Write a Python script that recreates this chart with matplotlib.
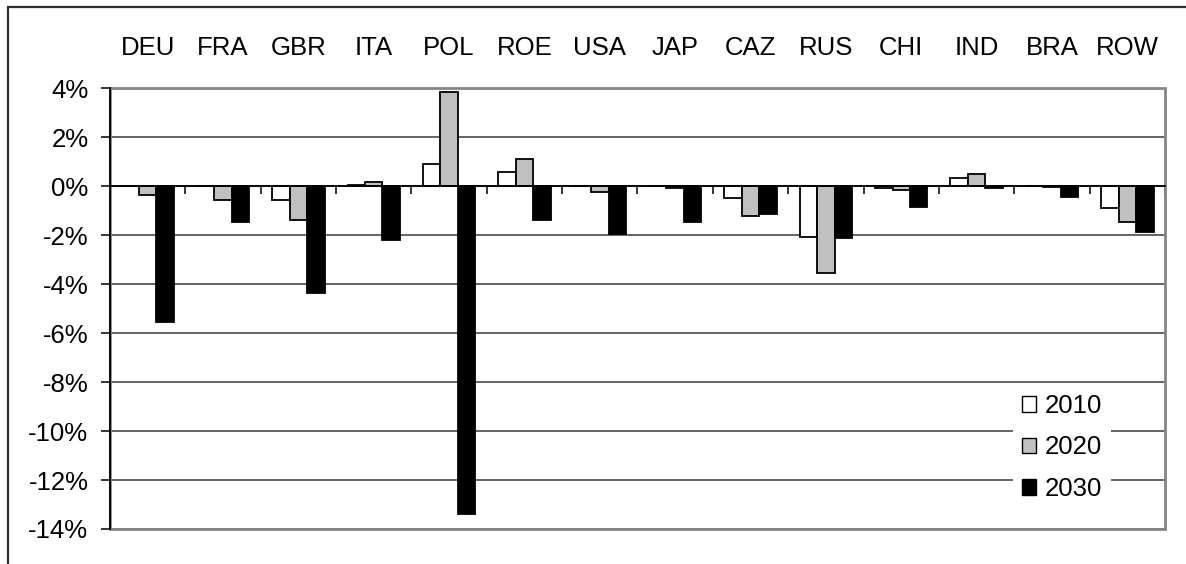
import matplotlib
matplotlib.use("Agg")
import matplotlib.pyplot as plt
import numpy as np
from matplotlib.patches import Rectangle
from matplotlib.ticker import FixedLocator, FuncFormatter, NullFormatter

plt.rcParams["font.family"] = ["Liberation Sans", "DejaVu Sans"]

regions = ["DEU", "FRA", "GBR", "ITA", "POL", "ROE", "USA", "JAP", "CAZ", "RUS", "CHI", "IND", "BRA", "ROW"]
years = ["2010", "2020", "2030"]
# change in %, per region
v2010 = [0.0, 0.0, -0.57, 0.05, 0.89, 0.56, 0.0, 0.0, -0.50, -2.10, -0.10, 0.33, 0.0, -0.90]
v2020 = [-0.37, -0.57, -1.38, 0.15, 3.84, 1.12, -0.25, -0.08, -1.23, -3.55, -0.17, 0.48, -0.06, -1.45]
v2030 = [-5.55, -1.47, -4.37, -2.20, -13.40, -1.39, -1.97, -1.47, -1.16, -2.12, -0.85, -0.08, -0.44, -1.86]
fills = ["white", "#c0c0c0", "black"]

FS = 18.5
W, H = 1186, 564
fig = plt.figure(figsize=(W / 100, H / 100), dpi=100)
ax = fig.add_axes([110 / W, (H - 529) / H, 1055 / W, 441 / H])

# outer chart frame (only top/left visible)
fig.add_artist(Rectangle((8 / W, -0.1), 1.2, (H - 7) / H + 0.1, transform=fig.transFigure,
                         fill=False, edgecolor="#303030", lw=1.6))

x = np.arange(len(regions))
bw = 0.232
for i, (vals, c) in enumerate(zip([v2010, v2020, v2030], fills)):
    ax.bar(x + (i - 1) * bw, vals, width=bw, color=c, edgecolor="black", lw=1.3,
           label=years[i], zorder=2)

ax.set_xlim(-0.5, len(regions) - 0.5)
ax.set_ylim(-14, 4)

# gridlines
ax.set_yticks(np.arange(-14, 5, 2))
ax.yaxis.grid(True, color="#3a3a3a", lw=1.1)
ax.set_axisbelow(True)
ax.yaxis.set_major_formatter(FuncFormatter(lambda v, p: f"{v:.0f}%"))
ax.tick_params(axis="y", direction="out", length=6.5, width=1.1, pad=9, labelsize=FS, colors="black")

# plot-area border
ax.add_patch(Rectangle((0, 0), 1, 1, transform=ax.transAxes, fill=False,
                       edgecolor="#858585", lw=2, zorder=1.5, clip_on=False))

for s in ["top", "right"]:
    ax.spines[s].set_visible(False)
ax.spines["left"].set_color("black")
ax.spines["left"].set_linewidth(1.3)
ax.spines["left"].set_zorder(3)
ax.spines["bottom"].set_position(("data", 0))
ax.spines["bottom"].set_color("black")
ax.spines["bottom"].set_linewidth(1.3)
ax.spines["bottom"].set_zorder(3)

# category boundaries as ticks on the zero line
ax.xaxis.set_major_locator(FixedLocator(np.arange(-0.5, len(regions), 1.0)))
ax.xaxis.set_major_formatter(NullFormatter())
ax.tick_params(axis="x", direction="out", length=6, width=1.1, colors="black")

# region names above the plot area
for xi, r in zip(x, regions):
    ax.text(xi, 1.091, r, transform=ax.get_xaxis_transform(), ha="center", va="center",
            fontsize=FS, color="black")

leg = ax.legend(loc="upper left", bbox_to_anchor=((1013 - 110) / 1055, (529 - 385) / 441),
                fontsize=FS, frameon=True, fancybox=False, framealpha=1, edgecolor="none",
                facecolor="white", handlelength=0.55, handleheight=0.55, handletextpad=0.35,
                labelspacing=0.68, borderpad=0.35, borderaxespad=0)
for h in leg.legend_handles:
    h.set_linewidth(1.0)
leg.set_zorder(5)

fig.savefig("out.png", dpi=100)
